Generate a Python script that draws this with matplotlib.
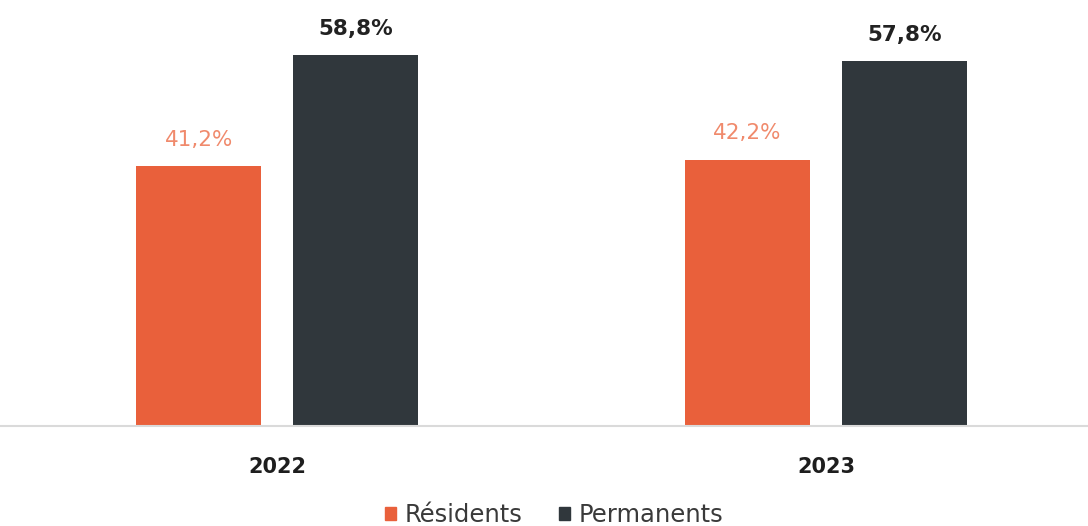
import matplotlib.pyplot as plt
from matplotlib.patches import Patch
import numpy as np

# --- données ---
annees = ["2022", "2023"]
residents = [41.2, 42.2]
permanents = [58.8, 57.8]
series = ["Résidents", "Permanents"]

# --- style ---
ORANGE = "#E9603B"
GRIS = "#30373C"
ORANGE_TXT = "#F08A6C"
plt.rcParams['font.family'] = ['DejaVu Sans']

fig = plt.figure(figsize=(10.88, 5.26), dpi=100)
ax = fig.add_axes([0, 0.19, 1, 0.81])

x = np.arange(len(annees))
w = 0.228
off = 0.143

b1 = ax.bar(x - off, residents, w, color=ORANGE)
b2 = ax.bar(x + off, permanents, w, color=GRIS)

# étiquettes de valeur
for rect, v in zip(b1, residents):
    ax.annotate(f"{v:.1f}%".replace(".", ","),
                (rect.get_x() + rect.get_width() / 2, v),
                xytext=(0, 19), textcoords="offset points",
                ha="center", va="center", fontsize=15.5, color=ORANGE_TXT)
for rect, v in zip(b2, permanents):
    ax.annotate(f"{v:.1f}%".replace(".", ","),
                (rect.get_x() + rect.get_width() / 2, v),
                xytext=(0, 19), textcoords="offset points",
                ha="center", va="center", fontsize=15.5, color="#222222",
                fontweight="semibold")

ax.set_xlim(-0.505, 1.477)
ax.set_ylim(0, 67.5)

for s in ["top", "right", "left"]:
    ax.spines[s].set_visible(False)
ax.spines["bottom"].set_color("#DADADA")
ax.spines["bottom"].set_linewidth(1.5)
ax.set_yticks([])
ax.set_xticks(x)
ax.set_xticklabels(annees, fontsize=15, fontweight="semibold", color="#1E1E1E")
ax.tick_params(axis="x", length=0, pad=22)

# légende
handles = [Patch(color=ORANGE), Patch(color=GRIS)]
fig.legend(handles, series, loc="center", bbox_to_anchor=(554 / 1088, 1 - 515 / 526),
           ncol=2, frameon=False, fontsize=17.5, handlelength=0.45, handleheight=0.45,
           handletextpad=0.35, columnspacing=1.5, labelcolor="#3A3A3A")

fig.savefig("out.png", dpi=100)
